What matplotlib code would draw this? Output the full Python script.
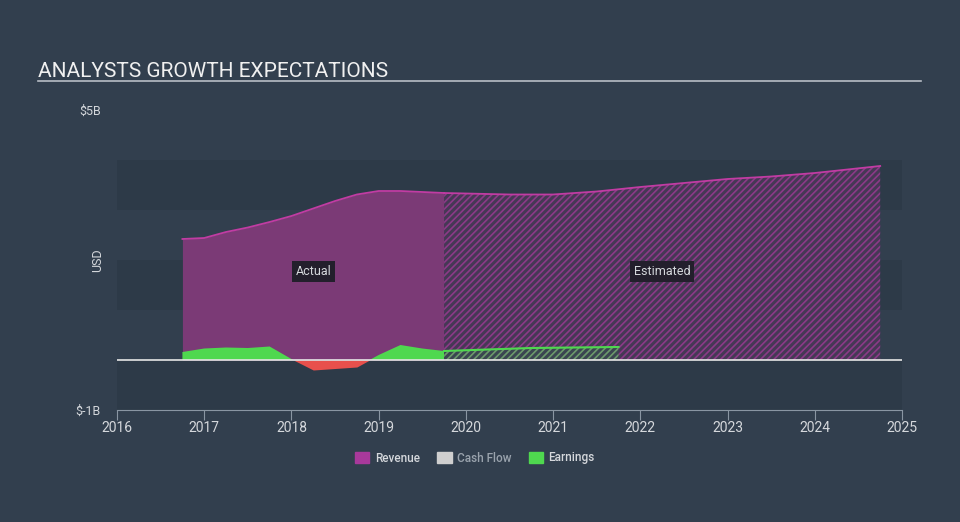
import matplotlib
matplotlib.use("Agg")
import matplotlib.pyplot as plt
from matplotlib.patches import Patch

plt.rcParams['font.family'] = ['Roboto', 'DejaVu Sans']

# Data (billions USD)
rev_years = [2016.75, 2017.0, 2017.25, 2017.5, 2017.75, 2018.0, 2018.25, 2018.5,
             2018.75, 2019.0, 2019.25, 2019.5, 2019.75]
rev_vals = [2.42, 2.44, 2.56, 2.65, 2.76, 2.88, 3.03, 3.18, 3.31, 3.38, 3.38, 3.36, 3.34]
rev_est_years = [2019.75, 2020.0, 2020.5, 2021.0, 2021.5, 2022.0, 2022.5, 2023.0, 2023.5, 2024.0, 2024.75]
rev_est_vals = [3.34, 3.33, 3.31, 3.31, 3.37, 3.46, 3.54, 3.62, 3.67, 3.74, 3.88]

earn_years = [2016.75, 2017.0, 2017.25, 2017.5, 2017.75, 2018.0, 2018.25, 2018.5,
              2018.75, 2019.0, 2019.25, 2019.5, 2019.75]
earn_vals = [0.16, 0.23, 0.25, 0.24, 0.27, 0.02, -0.2, -0.17, -0.14, 0.10, 0.30, 0.23, 0.18]
earn_est_years = [2019.75, 2020.25, 2020.75, 2021.25, 2021.75]
earn_est_vals = [0.18, 0.21, 0.24, 0.25, 0.26]

year_ticks = list(range(2016, 2026))

BG = '#323f4e'
BAND = '#2d3a48'
REV_FILL = '#7b3a76'
REV_LINE = '#c13ca3'
GREEN = '#4fd84f'
RED = '#e8504c'
TXT = '#d5d8dc'

plt.rcParams['hatch.linewidth'] = 1.2

fig = plt.figure(figsize=(9.6, 5.22), dpi=100, facecolor=BG)
ax = fig.add_axes([117/960, 1-410/522, (902-117)/960, 300/522])
ax.set_facecolor(BG)
ax.set_xlim(2016, 2025)
ax.set_ylim(-1, 5)

# alternating bands
for lo, hi in [(-1, 0), (1, 2), (3, 4)]:
    ax.axhspan(lo, hi, color=BAND, lw=0, zorder=0)

# revenue actual
ax.fill_between(rev_years, 0, rev_vals, color=REV_FILL, lw=0, zorder=1)
ax.plot(rev_years, rev_vals, color=REV_LINE, lw=1.3, zorder=3)

# revenue estimated (hatched)
ax.fill_between(rev_est_years, 0, rev_est_vals, facecolor='#463855', edgecolor='#8c3a88',
                hatch='/////', lw=0, zorder=1)
ax.plot(rev_est_years, rev_est_vals, color=REV_LINE, lw=1.3, zorder=3)

# earnings actual
ax.fill_between(earn_years, 0, earn_vals, where=[v >= 0 for v in earn_vals],
                interpolate=True, color=GREEN, lw=0, zorder=2)
ax.fill_between(earn_years, 0, earn_vals, where=[v <= 0 for v in earn_vals],
                interpolate=True, color=RED, lw=0, zorder=2)

# earnings estimated (hatched)
ax.fill_between(earn_est_years, 0, earn_est_vals, facecolor='#3a4550', edgecolor='#6c9a6c',
                hatch='/////', lw=0, zorder=2)
ax.plot(earn_est_years, earn_est_vals, color=GREEN, lw=1.5, zorder=3)

# zero line
ax.axhline(0, color='#e6e6e6', lw=1.2, zorder=4)

# axes styling
for s in ['top', 'right', 'left']:
    ax.spines[s].set_visible(False)
ax.spines['bottom'].set_color('#8a96a3')
ax.set_xticks(year_ticks)
ax.set_xticklabels([str(y) for y in year_ticks])
ax.tick_params(axis='x', colors='#8a96a3', labelcolor=TXT, labelsize=10, length=7, pad=1)
ax.set_yticks([5, -1])
ax.set_yticklabels(['$5B', '$-1B'])
ax.tick_params(axis='y', length=0, labelcolor=TXT, labelsize=9, pad=11.5)
fig.text(98/960, 1-260/522, 'USD', color=TXT, fontsize=9, rotation=90, ha='center', va='center')

# annotations
box = dict(boxstyle='square,pad=0.3', fc='#231f2c', ec='none')
ax.text(2018.25, 1.77, 'Actual', color=TXT, fontsize=9, ha='center', va='center', bbox=box, zorder=5)
ax.text(2022.25, 1.77, 'Estimated', color=TXT, fontsize=9, ha='center', va='center', bbox=box, zorder=5)

# title and rule
fig.text(38/960, 1-77/522, 'ANALYSTS GROWTH EXPECTATIONS', color='#f0f0f0', fontsize=15,
         ha='left', va='baseline')
fig.add_artist(plt.Line2D([38/960, 921/960], [1-81/522, 1-81/522], color='#b8bec6', lw=1.2))

# legend
handles = [Patch(color='#a8399b', label='Revenue'),
           Patch(color='#cfcfcf', label='Cash Flow'),
           Patch(color=GREEN, label='Earnings')]
leg = fig.legend(handles=handles, loc='center', bbox_to_anchor=(475/960, 1-458/522), ncol=3,
                 frameon=False, prop={'size': 8.5, 'weight': 'medium'}, handlelength=1.2,
                 handleheight=1.0, columnspacing=1.5, handletextpad=0.45)
for t, c in zip(leg.get_texts(), [TXT, '#9aa3ad', TXT]):
    t.set_color(c)

fig.savefig('out.png', dpi=100, facecolor=BG)
